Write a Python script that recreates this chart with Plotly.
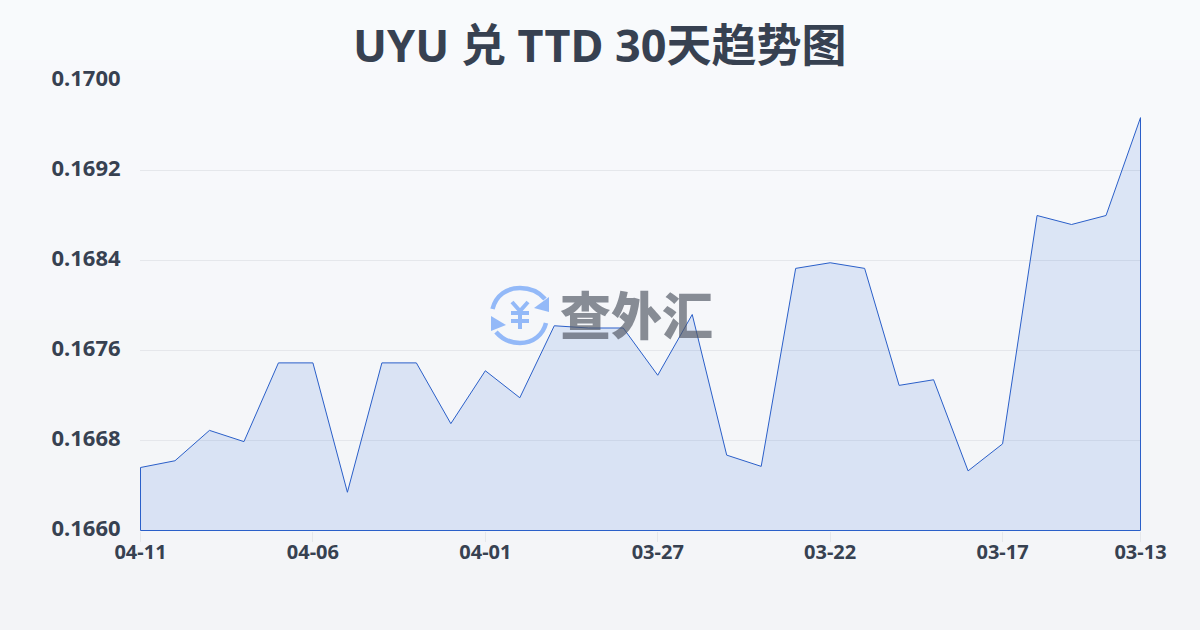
import plotly.graph_objects as go

TITLE = "UYU 兑 TTD 30天趋势图"
WATERMARK = "查外汇"
dates = ["04-11","04-10","04-09","04-08","04-07","04-06","04-05","04-04","04-03","04-02",
         "04-01","03-31","03-30","03-29","03-28","03-27","03-26","03-25","03-24","03-23",
         "03-22","03-21","03-20","03-19","03-18","03-17","03-16","03-15","03-14","03-13"]
rates = [0.16656,0.16662,0.16689,0.16679,0.16749,0.16749,0.16634,0.16749,0.16749,0.16695,
         0.16742,0.16718,0.16782,0.16780,0.16780,0.16738,0.16792,0.16667,0.16657,0.16833,
         0.16838,0.16833,0.16729,0.16734,0.16653,0.16677,0.16880,0.16872,0.16880,0.16967]
x_ticks = ["04-11","04-06","04-01","03-27","03-22","03-17","03-13"]
y_ticks = [0.1660,0.1668,0.1676,0.1684,0.1692,0.1700]
y_min, y_max = 0.1660, 0.1700

W, H = 1200, 630
L, R, T, B = 140, 1141, 80, 531
INK = "#374151"
FONT = "Noto Sans, Noto Sans CJK SC, sans-serif"
CJK = "Noto Sans CJK SC, Noto Sans, sans-serif"
BLUE = "#2a5fc9"

def px(x): return x / W
def py(y): return 1 - y / H
def path(*parts):
    out = []
    for p in parts:
        if isinstance(p, str):
            out.append(p)
        else:
            out.append(f"{px(p[0]):.5f} {py(p[1]):.5f}")
    return " ".join(out)

fig = go.Figure()
fig.add_trace(go.Scatter(
    x=dates + [dates[-1], dates[0], dates[0]],
    y=rates + [y_min, y_min, rates[0]],
    mode="lines", fill="toself",
    fillcolor="rgba(37,99,215,0.13)",
    line=dict(color=BLUE, width=1),
    hoverinfo="skip", showlegend=False, cliponaxis=False))

shapes = []
steps = 63
top, bot = (248, 250, 252), (243, 244, 247)
for i in range(steps):
    t = i / (steps - 1)
    c = tuple(round(a + (b - a) * t) for a, b in zip(top, bot))
    shapes.append(dict(type="rect", xref="paper", yref="paper", layer="below",
                       x0=0, x1=1, y0=py((i + 1) * H / steps + 1), y1=py(i * H / steps),
                       line=dict(width=0), fillcolor=f"rgb{c}"))

ICON = "#93b9f8"
base = dict(type="path", xref="paper", yref="paper", layer="above")
shapes += [
    dict(base, line=dict(color=ICON, width=4.5),
         path=path("M", (492.5, 309), "C", (496, 295), (507, 288), (520, 288), "C", (531, 288), (539, 292), (545, 299))),
    dict(base, line=dict(color=ICON, width=4.5),
         path=path("M", (546, 323), "C", (543, 335), (533, 343), (520, 343), "C", (510, 343), (502, 339), (496, 332))),
    dict(base, line=dict(width=0), fillcolor=ICON,
         path=path("M", (549, 297), "L", (549, 312), "L", (534, 308), "Z")),
    dict(base, line=dict(width=0), fillcolor=ICON,
         path=path("M", (491, 316), "L", (506, 325), "L", (491, 331), "Z")),
    dict(base, line=dict(color=ICON, width=4),
         path=path("M", (512, 302), "L", (520, 311), "L", (528, 302), "M", (520, 311), "L", (520, 329),
                   "M", (511, 313), "L", (529, 313), "M", (511, 321), "L", (529, 321))),
]

annotations = [
    dict(text=TITLE, xref="paper", yref="paper", x=px(600), y=py(45), showarrow=False,
         xanchor="center", yanchor="middle", font=dict(family=FONT, size=45, color=INK, weight=700)),
    dict(text=WATERMARK, xref="paper", yref="paper", x=px(636), y=py(313), showarrow=False,
         xanchor="center", yanchor="middle", font=dict(family=CJK, size=51, color="rgba(82,88,100,0.68)", weight=900)),
]

x_pad = 0.5 * (len(dates) - 1) / 1000
y_pad = 0.5 * (y_max - y_min) / 450

fig.update_layout(
    width=W, height=H, autosize=False,
    margin=dict(l=0, r=0, t=0, b=0),
    paper_bgcolor="#f6f7f9", plot_bgcolor="rgba(0,0,0,0)",
    shapes=shapes, annotations=annotations,
    xaxis=dict(automargin=False, domain=[L / W, R / W], type="category", categoryorder="array", categoryarray=dates,
               range=[-x_pad, len(dates) - 1 + x_pad], tickmode="array", tickvals=x_ticks, ticktext=x_ticks,
               showgrid=False, zeroline=False, showline=False, ticks="outside", ticklen=10,
               tickcolor="#e5e7eb", tickwidth=1, ticklabelstandoff=-7,
               tickfont=dict(family=FONT, size=20, color=INK, weight=700)),
    yaxis=dict(automargin=False, domain=[1 - B / H, 1 - T / H], range=[y_min - y_pad, y_max + y_pad], tickmode="array",
               tickvals=y_ticks, ticktext=[f"{v:.4f}" for v in y_ticks],
               showgrid=True, gridcolor="#e5e7eb", gridwidth=1, zeroline=False, showline=False,
               ticks="outside", ticklen=14, tickcolor="rgba(0,0,0,0)", ticklabelshift=-2,
               tickfont=dict(family=FONT, size=22, color=INK, weight=700)),
)
fig.write_html("out.html", config=dict(displayModeBar=False),
               post_script="document.body.style.margin='0';document.documentElement.style.overflow='hidden';window.dispatchEvent(new Event('resize'));")
